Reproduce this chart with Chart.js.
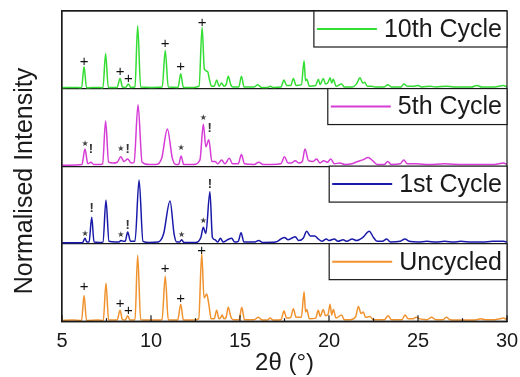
<!DOCTYPE html>
<html>
<head>
<meta charset="utf-8">
<script src="https://cdn.jsdelivr.net/npm/chart.js@4.4.1/dist/chart.umd.min.js"></script>
<style>
  html, body { margin: 0; padding: 0; background: #fff; }
  #wrap { width: 520px; height: 377px; }
</style>
</head>
<body>
<div id="wrap"><canvas id="xrd" width="520" height="377"></canvas></div>
<script>
// Powder XRD patterns, [2θ (°), normalised intensity]
const uncycled = [
  [5.0,0.01],[5.6,0.015],[6.1,0.01],[6.24,0.33],[6.38,0.01],[7.0,0.015],[7.32,0.01],[7.47,0.49],[7.62,0.015],
  [8.1,0.015],[8.26,0.14],[8.4,0.02],[8.55,0.015],[8.69,0.07],[8.82,0.015],[9.1,0.02],[9.25,0.85],[9.42,0.02],
  [10.0,0.015],[10.62,0.02],[10.8,0.58],[10.97,0.02],[11.5,0.015],[11.67,0.22],[11.82,0.015],[12.4,0.015],
  [12.68,0.03],[12.85,0.87],[12.98,0.3],[13.13,0.35],[13.26,0.2],[13.38,0.03],[13.55,0.03],[13.69,0.14],
  [13.82,0.03],[13.9,0.04],[14.0,0.08],[14.1,0.03],[14.22,0.05],[14.34,0.18],[14.48,0.06],[14.6,0.02],
  [14.95,0.02],[15.1,0.18],[15.25,0.02],[15.8,0.02],[16.03,0.05],[16.25,0.015],[16.55,0.015],[16.69,0.04],
  [16.85,0.015],[17.3,0.02],[17.47,0.13],[17.62,0.04],[17.85,0.05],[18.0,0.16],[18.15,0.05],[18.45,0.05],
  [18.6,0.38],[18.68,0.12],[18.75,0.15],[18.9,0.03],[19.25,0.04],[19.4,0.14],[19.5,0.06],[19.68,0.15],
  [19.8,0.07],[19.95,0.09],[20.06,0.22],[20.15,0.08],[20.24,0.15],[20.4,0.04],[20.71,0.08],[20.85,0.02],
  [21.2,0.02],[21.5,0.06],[21.65,0.19],[21.8,0.1],[21.93,0.12],[22.05,0.05],[22.3,0.06],[22.5,0.02],
  [23.1,0.02],[23.33,0.07],[23.5,0.02],[24.1,0.02],[24.27,0.08],[24.45,0.03],[24.7,0.03],[24.9,0.05],
  [25.1,0.03],[25.5,0.02],[25.77,0.05],[26.0,0.02],[26.4,0.02],[26.6,0.05],[26.8,0.02],[27.5,0.015],
  [28.3,0.02],[28.5,0.03],[28.8,0.02],[29.3,0.02],[29.6,0.03],[29.8,0.04],[30.0,0.02]
];
const cycle1 = [
  [5.0,0.01],[5.8,0.01],[6.15,0.01],[6.29,0.07],[6.4,0.02],[6.52,0.02],[6.67,0.34],[6.8,0.02],[7.1,0.015],
  [7.3,0.02],[7.47,0.56],[7.64,0.03],[8.0,0.02],[8.2,0.02],[8.31,0.04],[8.45,0.03],[8.55,0.03],[8.69,0.15],
  [8.85,0.03],[9.1,0.03],[9.33,0.82],[9.55,0.03],[9.9,0.015],[10.4,0.02],[10.7,0.12],[11.07,0.55],[11.3,0.12],
  [11.45,0.02],[11.6,0.02],[11.72,0.05],[11.85,0.015],[12.5,0.015],[12.8,0.08],[12.94,0.21],[13.08,0.13],
  [13.31,0.67],[13.45,0.08],[13.6,0.05],[13.75,0.02],[13.9,0.07],[14.05,0.02],[14.3,0.05],[14.53,0.07],
  [14.7,0.02],[14.9,0.03],[15.06,0.14],[15.22,0.02],[15.8,0.02],[16.05,0.04],[16.3,0.015],[17.0,0.02],
  [17.3,0.06],[17.5,0.08],[17.7,0.05],[17.9,0.07],[18.1,0.09],[18.3,0.04],[18.55,0.07],[18.75,0.16],
  [18.95,0.1],[19.2,0.1],[19.4,0.06],[19.6,0.03],[19.85,0.06],[20.0,0.04],[20.3,0.06],[20.5,0.03],[20.8,0.05],
  [21.0,0.03],[21.3,0.06],[21.55,0.04],[21.9,0.08],[22.26,0.16],[22.5,0.08],[22.7,0.03],[23.0,0.03],
  [23.24,0.06],[23.45,0.02],[24.0,0.03],[24.27,0.06],[24.5,0.03],[25.0,0.02],[25.5,0.03],[26.0,0.02],
  [26.5,0.03],[27.0,0.02],[27.4,0.03],[28.0,0.02],[28.6,0.02],[29.2,0.03],[29.8,0.03],[30.0,0.02]
];
const cycle5 = [
  [5.0,0.01],[5.8,0.015],[6.12,0.02],[6.29,0.22],[6.45,0.03],[6.63,0.05],[6.78,0.02],[7.1,0.02],[7.28,0.03],
  [7.45,0.58],[7.62,0.05],[7.85,0.04],[8.1,0.05],[8.31,0.12],[8.48,0.06],[8.69,0.09],[8.9,0.04],[9.05,0.05],
  [9.27,0.79],[9.5,0.05],[9.9,0.02],[10.3,0.02],[10.6,0.1],[10.92,0.48],[11.2,0.1],[11.4,0.02],[11.55,0.02],
  [11.69,0.13],[11.84,0.02],[12.4,0.02],[12.75,0.08],[12.94,0.54],[13.08,0.25],[13.25,0.34],[13.42,0.06],
  [13.6,0.06],[13.75,0.03],[13.97,0.08],[14.15,0.03],[14.4,0.1],[14.58,0.03],[14.9,0.03],[15.08,0.15],
  [15.25,0.03],[15.8,0.02],[16.05,0.05],[16.3,0.02],[16.8,0.02],[17.3,0.03],[17.5,0.12],[17.7,0.04],
  [17.9,0.04],[18.1,0.07],[18.3,0.04],[18.5,0.06],[18.65,0.22],[18.85,0.07],[19.1,0.06],[19.3,0.09],
  [19.5,0.04],[19.7,0.07],[19.9,0.05],[20.1,0.09],[20.3,0.03],[20.6,0.04],[20.9,0.02],[21.3,0.03],
  [21.6,0.06],[21.9,0.08],[22.2,0.11],[22.45,0.07],[22.7,0.02],[23.1,0.02],[23.3,0.06],[23.5,0.02],
  [24.0,0.03],[24.2,0.08],[24.4,0.03],[24.9,0.03],[25.6,0.02],[26.5,0.03],[27.5,0.02],[28.5,0.02],
  [29.3,0.02],[29.8,0.04],[30.0,0.02]
];
const cycle10 = [
  [5.0,0.01],[5.7,0.015],[6.1,0.01],[6.24,0.28],[6.38,0.01],[7.0,0.015],[7.3,0.01],[7.45,0.45],[7.6,0.015],
  [8.1,0.015],[8.26,0.13],[8.4,0.02],[8.58,0.015],[8.73,0.06],[8.86,0.015],[9.1,0.02],[9.25,0.81],[9.42,0.02],
  [10.0,0.015],[10.63,0.02],[10.8,0.49],[10.97,0.02],[11.52,0.015],[11.67,0.19],[11.82,0.015],[12.4,0.015],
  [12.7,0.03],[12.87,0.79],[13.0,0.25],[13.18,0.22],[13.28,0.12],[13.4,0.03],[13.55,0.03],[13.69,0.11],
  [13.82,0.03],[13.97,0.07],[14.1,0.03],[14.22,0.05],[14.34,0.16],[14.48,0.05],[14.6,0.02],[14.93,0.02],
  [15.08,0.16],[15.23,0.02],[15.8,0.02],[16.0,0.05],[16.2,0.015],[16.55,0.015],[16.7,0.03],[16.85,0.015],
  [17.3,0.02],[17.47,0.11],[17.62,0.04],[17.85,0.04],[18.0,0.13],[18.15,0.04],[18.45,0.05],[18.6,0.36],
  [18.68,0.1],[18.75,0.12],[18.9,0.03],[19.25,0.04],[19.4,0.12],[19.5,0.05],[19.68,0.13],[19.8,0.06],
  [19.95,0.08],[20.06,0.14],[20.15,0.07],[20.24,0.12],[20.4,0.03],[20.71,0.06],[20.85,0.02],[21.3,0.02],
  [21.55,0.06],[21.74,0.14],[21.9,0.07],[22.0,0.08],[22.15,0.03],[22.4,0.03],[22.6,0.02],[23.1,0.02],
  [23.3,0.05],[23.5,0.02],[24.05,0.02],[24.2,0.06],[24.4,0.03],[24.8,0.03],[25.0,0.04],[25.2,0.02],
  [25.7,0.03],[26.0,0.02],[26.6,0.03],[27.0,0.02],[28.0,0.02],[28.3,0.04],[28.6,0.02],[29.3,0.02],
  [29.8,0.04],[30.0,0.02]
];

// Phase markers above reflections: [2θ, height in panel units, symbol]
const marksUncycled = [[6.24,0.44,'+'],[8.26,0.22,'+'],[8.73,0.13,'+'],[10.8,0.67,'+'],[11.67,0.29,'+'],[12.85,0.91,'+']];
const marks1  = [[6.29,0.13,'*'],[6.67,0.45,'!'],[8.31,0.11,'*'],[8.69,0.24,'!'],[11.72,0.11,'*'],[12.94,0.29,'*'],[13.31,0.77,'!']];
const marks5  = [[6.29,0.29,'*'],[6.63,0.21,'!'],[8.31,0.22,'*'],[8.69,0.22,'!'],[11.69,0.23,'*'],[12.94,0.62,'*'],[13.3,0.48,'!']];
const marks10 = [[6.24,0.35,'+'],[8.26,0.22,'+'],[8.73,0.13,'+'],[10.8,0.57,'+'],[11.67,0.28,'+'],[12.87,0.85,'+']];

const seriesLabels = ['Uncycled', '1st Cycle', '5th Cycle', '10th Cycle'];
const tickLabels = [5, 10, 15, 20, 25, 30];

const FONT = "'Liberation Sans', Arial, Helvetica, sans-serif";
const INK = '#1a1a1a';

// bottom-to-top stacking order; each pattern sits one unit above the previous
const panels = [
  { data: uncycled, marks: marksUncycled, color: '#f0922e' },
  { data: cycle1,   marks: marks1,        color: '#1a1aaa' },
  { data: cycle5,   marks: marks5,        color: '#d63cd6' },
  { data: cycle10,  marks: marks10,       color: '#33dd33' }
];

const datasets = panels.map((p, i) => ({
  label: seriesLabels[i],
  data: p.data.map(([x, y]) => ({ x, y: y + i })),
  borderColor: p.color,
  backgroundColor: p.color,
  borderWidth: 1.5,
  pointRadius: 0,
  cubicInterpolationMode: 'monotone',
  fill: false
}));

const decorations = {
  id: 'decorations',
  afterDatasetsDraw(chart) {
    const { ctx, chartArea: a, scales: { x, y } } = chart;
    ctx.save();

    // frame
    ctx.strokeStyle = INK;
    ctx.lineWidth = 1.2;
    ctx.strokeRect(a.left, a.top, a.right - a.left, a.bottom - a.top);

    // inward tick marks on the 2θ axis
    x.ticks.forEach(t => {
      const px = x.getPixelForValue(t.value);
      const len = tickLabels.includes(t.value) ? 6 : 3;
      ctx.beginPath();
      ctx.moveTo(px, a.bottom);
      ctx.lineTo(px, a.bottom - len);
      ctx.stroke();
    });

    // reflection markers
    ctx.textAlign = 'center';
    ctx.textBaseline = 'middle';
    panels.forEach((p, i) => {
      p.marks.forEach(([mx, my, sym]) => {
        const px = x.getPixelForValue(mx);
        const py = y.getPixelForValue(my + i);
        if (sym === '+') {
          ctx.fillStyle = '#111';
          ctx.font = `15px ${FONT}`;
          ctx.fillText('+', px, py);
        } else if (sym === '!') {
          ctx.fillStyle = '#333';
          ctx.font = `bold 13px ${FONT}`;
          ctx.fillText('!', px, py);
        } else {
          ctx.fillStyle = '#444';
          ctx.font = `8px 'DejaVu Sans', sans-serif`;
          ctx.fillText('\u2605', px, py);
        }
      });
    });

    // per-panel legend boxes
    ctx.font = `25px ${FONT}`;
    panels.forEach((p, i) => {
      const label = seriesLabels[i];
      const top = y.getPixelForValue(i + 1);
      const boxH = 36;
      const tw = ctx.measureText(label).width;
      const textRight = a.right - 5;
      const textLeft = textRight - tw;
      const lineEnd = textLeft - 7;
      const lineStart = lineEnd - 60;
      const boxLeft = lineStart - 3;
      ctx.fillStyle = '#fff';
      ctx.fillRect(boxLeft, top, a.right - boxLeft, boxH);
      ctx.strokeStyle = INK;
      ctx.lineWidth = 1.2;
      ctx.strokeRect(boxLeft, top, a.right - boxLeft, boxH);
      const cy = top + boxH / 2;
      ctx.strokeStyle = p.color;
      ctx.lineWidth = 2;
      ctx.beginPath();
      ctx.moveTo(lineStart, cy);
      ctx.lineTo(lineEnd, cy);
      ctx.stroke();
      ctx.fillStyle = INK;
      ctx.textAlign = 'left';
      ctx.textBaseline = 'middle';
      ctx.fillText(label, textLeft, cy + 1);
    });

    // vertical axis title
    ctx.translate(25, 181);
    ctx.rotate(-Math.PI / 2);
    ctx.textAlign = 'center';
    ctx.textBaseline = 'middle';
    ctx.fillStyle = INK;
    ctx.font = `25px ${FONT}`;
    ctx.fillText('Normalised Intensity', 0, 0);

    ctx.restore();
  }
};

new Chart(document.getElementById('xrd'), {
  type: 'line',
  data: { datasets },
  plugins: [decorations],
  options: {
    responsive: false,
    animation: false,
    devicePixelRatio: 1,
    layout: { padding: { left: 62, right: 13, top: 11, bottom: 11 } },
    plugins: { legend: { display: false }, tooltip: { enabled: false } },
    scales: {
      x: {
        type: 'linear',
        min: 5,
        max: 30,
        grid: { display: false, drawTicks: false },
        border: { display: true, color: INK, width: 1.2 },
        ticks: {
          stepSize: 2.5,
          autoSkip: false,
          maxRotation: 0,
          padding: 0,
          color: INK,
          font: { family: FONT, size: 20, lineHeight: 2.0 },
          callback: v => tickLabels.includes(v) ? String(v) : ''
        },
        title: {
          display: true,
          text: '2θ (°)',
          color: INK,
          font: { family: FONT, size: 24, lineHeight: 0.2 },
          padding: { top: 0, bottom: 0 }
        }
      },
      y: {
        min: 0,
        max: 4,
        ticks: { display: false, stepSize: 1 },
        grid: { color: INK, lineWidth: 1.2, drawTicks: false },
        border: { display: true, color: INK, width: 1.2 }
      }
    }
  }
});
</script>
</body>
</html>
